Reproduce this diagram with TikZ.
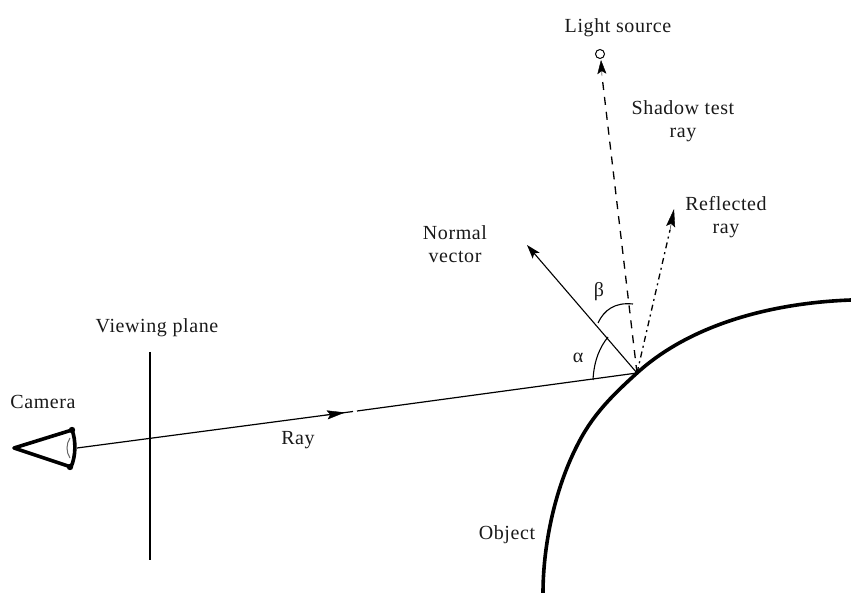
\documentclass[tikz,border=0pt]{standalone}
\usepackage{fontspec}
\setmainfont{Liberation Serif}[LetterSpace=3]
\usetikzlibrary{arrows.meta}
\tikzset{
 lab/.style={font=\fontsize{20}{23}\selectfont,align=center,inner sep=0pt,text=black!90},
 thinline/.style={line width=1.2pt},
 tip/.style={-{Stealth[length=18pt,width=9pt,inset=3pt]}},
 smalltip/.style={-{Stealth[length=14pt,width=9pt,inset=3pt]}},
 dashray/.style={line width=1.3pt,dash pattern=on 8pt off 7pt},
 dotray/.style={line width=1.3pt,dash pattern=on 6pt off 4pt on 2pt off 4pt},
}
\begin{document}
\begin{tikzpicture}[x=1pt,y=-1pt]
\useasboundingbox (0,0) rectangle (851,593);
\coordinate (H) at (637,373);
\coordinate (cam) at (77,448);
\coordinate (mid) at (345,412.5);
\coordinate (ge) at (353,411.5);
\coordinate (gs) at (357,411);
\coordinate (pa) at (150,352);
\coordinate (pb) at (150,560);
\coordinate (nt) at (527,245);
\coordinate (rt) at (674,209);
\coordinate (st) at (601,60);
\coordinate (sb) at (602,76);
\coordinate (rb) at (670,230);
% object
\draw[line width=3.6pt] (543,593) .. controls (543,550) and (553,490) .. (580,440) .. controls (595,412) and (615,393) .. (H) .. controls (690,325) and (770,303) .. (851,300);
% plane
\draw[thinline] (pa) -- (pb);
% camera
\draw[line width=3.6pt,line join=round] (14,448) -- (72,430) .. controls (76,440) and (76,456) .. (71,467) -- cycle;
\fill (72,430) circle (3.2pt);
\fill (70,467) circle (3.2pt);
\draw[line width=1pt,black!60] (70,438) .. controls (66,444) and (66,452) .. (70,458);
% ray
\draw[thinline] (cam) -- (ge);
\draw[thinline] (gs) -- (H);
\draw[tip] (325,415.2) -- (mid);
% normal
\draw[line width=1.1pt,smalltip] (H) -- (nt);
% shadow
\draw[dashray] (H) -- (sb);
\draw[smalltip] (sb) -- (st);
\node[draw,circle,line width=1pt,minimum size=9pt,inner sep=0pt] (light) at (600,54) {};
% reflected
\draw[dotray] (H) -- (rb);
\draw[tip] (rb) -- (rt);
% angles
\draw[line width=1.1pt] (593,380) .. controls (594,360) and (600,347) .. (608,337);
\draw[line width=1.1pt] (598,323) .. controls (604,310) and (615,302) .. (633,304);
% labels
\node[lab] (t1) at (618,28) {Light source};
\node[lab] (t2) at (683,121) {Shadow test\\ray};
\node[lab] (t3) at (726,217) {Reflected\\ray};
\node[lab] (t4) at (455,244) {Normal\\vector};
\node[lab] (t5) at (157,328) {Viewing plane};
\node[lab] (t6) at (43,402) {Camera};
\node[lab] (t7) at (298,440) {Ray};
\node[lab] (t8) at (507,535) {Object};
\node[lab] (t9) at (578,358) {α};
\node[lab] (t10) at (599,292) {β};
\end{tikzpicture}
\end{document}
